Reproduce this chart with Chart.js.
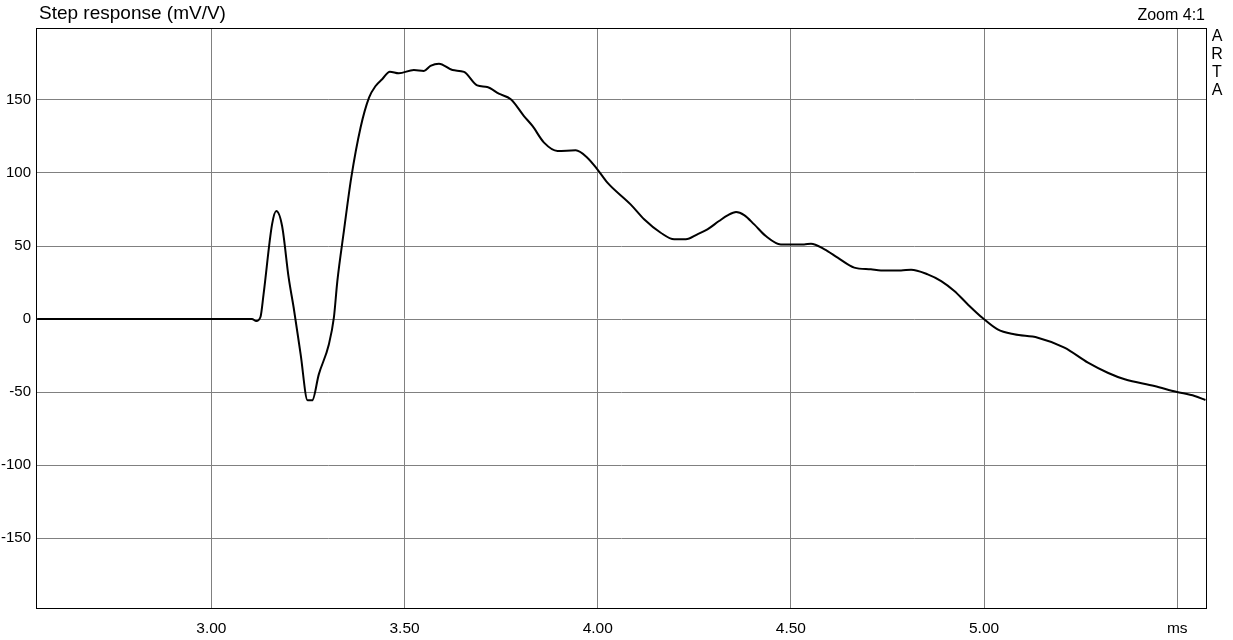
<!DOCTYPE html>
<html>
<head>
<meta charset="utf-8">
<title>Step response</title>
<script src="https://cdn.jsdelivr.net/npm/chart.js@4/dist/chart.umd.min.js"></script>
<style>
  html, body { margin: 0; padding: 0; background: #fff; }
  #wrap { width: 1233px; height: 640px; }
</style>
</head>
<body>
<div id="wrap"><canvas id="stepChart" width="1233" height="640"></canvas></div>
<script>
// time in ms
const timeMs = [2.549, 3.105, 3.116, 3.127, 3.135, 3.157, 3.168, 3.183, 3.200, 3.213,
  3.231, 3.249, 3.261, 3.278, 3.304, 3.317, 3.326, 3.343, 3.362, 3.386,
  3.408, 3.425, 3.442, 3.462, 3.485, 3.524, 3.550, 3.567, 3.589, 3.624,
  3.654, 3.688, 3.714, 3.744, 3.775, 3.809, 3.831, 3.861, 3.896, 3.943,
  3.973, 3.999, 4.025, 4.085, 4.120, 4.163, 4.198, 4.228, 4.258, 4.284,
  4.314, 4.336, 4.358, 4.379, 4.405, 4.435, 4.474, 4.534, 4.552, 4.587,
  4.621, 4.664, 4.707, 4.733, 4.785, 4.811, 4.854, 4.889, 4.923, 4.958,
  4.997, 5.035, 5.078, 5.139, 5.208, 5.269, 5.320, 5.364, 5.441, 5.497,
  5.545, 5.573];
// step response, mV/V
const stepMv = [0, 0, -1.4, 1.4, 16.9, 64.8, 74, 63.7, 28.3, 7.7,
  -24.2, -55.7, -55.7, -37.9, -17.4, 0.9, 26, 60.3, 96.8, 131,
  151.6, 159.6, 164.2, 169.4, 168.3, 170.5, 169.9, 173.3, 174.9, 170.5,
  169.2, 160, 158.9, 154.3, 150.5, 139, 132.2, 120.8, 115.1, 115.5,
  110.5, 102.5, 93.4, 78.5, 68.3, 59.1, 54.6, 54.6, 58, 61.4,
  67.1, 71, 73.3, 71.2, 64.8, 56.8, 51.1, 51.1, 51.6, 47.7,
  42, 35.2, 34, 33.3, 33.3, 33.8, 30.6, 26, 19.2, 10,
  0.5, -7.1, -10.5, -12.8, -19.6, -29.9, -36.8, -41.3, -45.9, -49.8,
  -52.7, -55.5];

const xTicks = [3.0, 3.5, 4.0, 4.5, 5.0, 5.5];
const yTicks = [-150, -100, -50, 0, 50, 100, 150];

const FONT = '"Liberation Sans", Arial, sans-serif';

const extras = {
  id: 'extras',
  afterDraw(chart) {
    const { ctx, chartArea: a } = chart;
    ctx.save();
    ctx.strokeStyle = '#000';
    ctx.lineWidth = 1;
    ctx.strokeRect(a.left + 0.5, a.top + 0.5, a.right - a.left - 1, a.bottom - a.top - 1);

    ctx.fillStyle = '#000';
    ctx.textBaseline = 'middle';
    ctx.font = '19px ' + FONT;
    ctx.textAlign = 'left';
    ctx.fillText('Step response (mV/V)', 39, 14);

    ctx.font = '16px ' + FONT;
    ctx.textAlign = 'right';
    ctx.fillText('Zoom 4:1', 1205, 16);

    ctx.textAlign = 'center';
    ['A', 'R', 'T', 'A'].forEach((ch, i) => ctx.fillText(ch, 1217, 37 + i * 17.7));
    ctx.restore();
  }
};

new Chart(document.getElementById('stepChart'), {
  type: 'line',
  data: {
    datasets: [{
      data: timeMs.map((t, i) => ({ x: t, y: stepMv[i] })),
      borderColor: '#000',
      borderWidth: 2,
      pointRadius: 0,
      fill: false,
      cubicInterpolationMode: 'monotone'
    }]
  },
  options: {
    responsive: false,
    animation: false,
    layout: { padding: { top: 28, right: 26, left: 0, bottom: 0 } },
    plugins: { legend: { display: false }, tooltip: { enabled: false } },
    scales: {
      x: {
        type: 'linear',
        min: 2.546,
        max: 5.577,
        afterBuildTicks: s => { s.ticks = xTicks.map(v => ({ value: v })); },
        afterFit: s => { s.height = 31; },
        grid: { color: '#808080', drawTicks: false },
        border: { display: false },
        ticks: {
          color: '#000',
          font: { family: FONT, size: 15.5 },
          padding: 10,
          maxRotation: 0,
          callback: v => v === 5.5 ? 'ms' : v.toFixed(2)
        }
      },
      y: {
        min: -198.6,
        max: 199.3,
        afterBuildTicks: s => { s.ticks = yTicks.map(v => ({ value: v })); },
        afterFit: s => { s.width = 36; },
        grid: { color: '#808080', drawTicks: false },
        border: { display: false },
        ticks: {
          color: '#000',
          font: { family: FONT, size: 15 },
          padding: 5,
          callback: v => String(v)
        }
      }
    }
  },
  plugins: [extras]
});
</script>
</body>
</html>
